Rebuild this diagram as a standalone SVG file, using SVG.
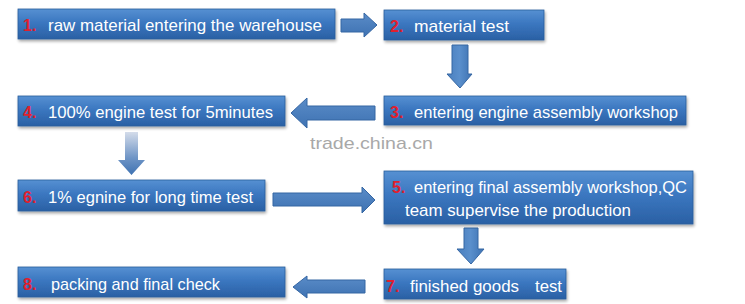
<svg xmlns="http://www.w3.org/2000/svg" width="745" height="304" viewBox="0 0 745 304">
<defs>
<linearGradient id="boxg" x1="0" y1="0" x2="0" y2="1">
<stop offset="0" stop-color="#5690d2"/>
<stop offset="0.45" stop-color="#3b77c0"/>
<stop offset="1" stop-color="#2a60a4"/>
</linearGradient>
<linearGradient id="arrg" x1="0" y1="0" x2="0" y2="1">
<stop offset="0" stop-color="#5a8cc8"/>
<stop offset="1" stop-color="#3e72b2"/>
</linearGradient>
<linearGradient id="arrgv" x1="0" y1="0" x2="1" y2="0">
<stop offset="0" stop-color="#4a7fbe"/>
<stop offset="0.5" stop-color="#5a8fcc"/>
<stop offset="1" stop-color="#3e72b2"/>
</linearGradient>
<linearGradient id="fadeg" x1="0" y1="0" x2="0" y2="1">
<stop offset="0" stop-color="#d4dcea"/>
<stop offset="0.6" stop-color="#6f95c6"/>
<stop offset="1" stop-color="#3e72b2"/>
</linearGradient>
<filter id="sh" x="-5%" y="-20%" width="110%" height="160%">
<feGaussianBlur in="SourceAlpha" stdDeviation="1.5"/>
<feOffset dx="1" dy="2" result="b"/>
<feComponentTransfer><feFuncA type="linear" slope="0.35"/></feComponentTransfer>
<feMerge><feMergeNode/><feMergeNode in="SourceGraphic"/></feMerge>
</filter>
</defs>
<style>
.box{fill:url(#boxg);stroke:#2a5d9c;stroke-width:0.8;filter:url(#sh)}
.t{font-family:"Liberation Sans",Arial,sans-serif;font-size:17px;fill:#ffffff}
.n{font-family:"Liberation Sans",Arial,sans-serif;font-size:16px;font-weight:bold;fill:#e0202e}
.ar{fill:url(#arrg);stroke:#3566a3;stroke-width:1}
.av{fill:url(#arrgv);stroke:#3566a3;stroke-width:1}
.wm{font-family:"Liberation Sans",Arial,sans-serif;font-size:17px;fill:#a8a8a8}
</style>
<rect width="745" height="304" fill="#ffffff"/>
<g id="connectors">
<polygon class="ar" points="341,19 364,19 364,13 377,25 364,37 364,32 341,32"/>
<polygon class="av" points="452,45 468,45 468,74 472,74 460,88 447,74 452,74"/>
<polygon class="ar" points="375,106 307,106 307,98 291,113 307,128 307,120 375,120"/>
<polygon fill="url(#fadeg)" points="125,132 138,132 138,160 145,160 131.5,175 118,160 125,160"/>
<polygon class="ar" points="273,193 362,193 362,187 375,200 362,213 362,206 273,206"/>
<polygon class="av" points="464,228 478,228 478,249 484,249 471,264 457,249 464,249"/>
<polygon class="ar" points="365,280 307,280 307,276 293,287 307,298 307,293 365,293"/>
</g>
<g id="node1">
<rect class="box" x="18" y="9" width="317" height="30"/>
<text class="n" x="23" y="31">1.</text>
<text class="t" x="48" y="30.5" textLength="274" lengthAdjust="spacingAndGlyphs">raw material entering the warehouse</text>
</g>
<g id="node2">
<rect class="box" x="384" y="10" width="160" height="30"/>
<text class="n" x="390" y="32">2.</text>
<text class="t" x="414" y="31.5" textLength="95" lengthAdjust="spacingAndGlyphs">material test</text>
</g>
<g id="node3">
<rect class="box" x="384" y="96" width="302" height="29"/>
<text class="n" x="390" y="118">3.</text>
<text class="t" x="414" y="117.5" textLength="264" lengthAdjust="spacingAndGlyphs">entering engine assembly workshop</text>
</g>
<g id="node4">
<rect class="box" x="18" y="96" width="267" height="30"/>
<text class="n" x="23" y="118">4.</text>
<text class="t" x="48" y="117.5" textLength="225" lengthAdjust="spacingAndGlyphs">100% engine test for 5minutes</text>
</g>
<g id="node6">
<rect class="box" x="18" y="180" width="247" height="31"/>
<text class="n" x="23" y="203">6.</text>
<text class="t" x="48" y="202.5" textLength="205" lengthAdjust="spacingAndGlyphs">1% egnine for long time test</text>
</g>
<g id="node5">
<rect class="box" x="384" y="171" width="309" height="53"/>
<text class="n" x="392" y="193">5.</text>
<text class="t" x="414" y="192.5" textLength="273" lengthAdjust="spacingAndGlyphs">entering final assembly workshop,QC</text>
<text class="t" x="405" y="215.5" textLength="226" lengthAdjust="spacingAndGlyphs">team supervise the production</text>
</g>
<g id="node7">
<rect class="box" x="384" y="269" width="182" height="30"/>
<text class="n" x="386" y="292">7.</text>
<text class="t" x="410" y="291.5" textLength="109" lengthAdjust="spacingAndGlyphs">finished goods</text>
<text class="t" x="535" y="291.5" textLength="27" lengthAdjust="spacingAndGlyphs">test</text>
</g>
<g id="node8">
<rect class="box" x="18" y="267" width="267" height="30"/>
<text class="n" x="23" y="290">8.</text>
<text class="t" x="51" y="289.5" textLength="169" lengthAdjust="spacingAndGlyphs">packing and final check</text>
</g>
<text class="wm" x="310" y="149" textLength="123" lengthAdjust="spacingAndGlyphs">trade.china.cn</text>
</svg>
